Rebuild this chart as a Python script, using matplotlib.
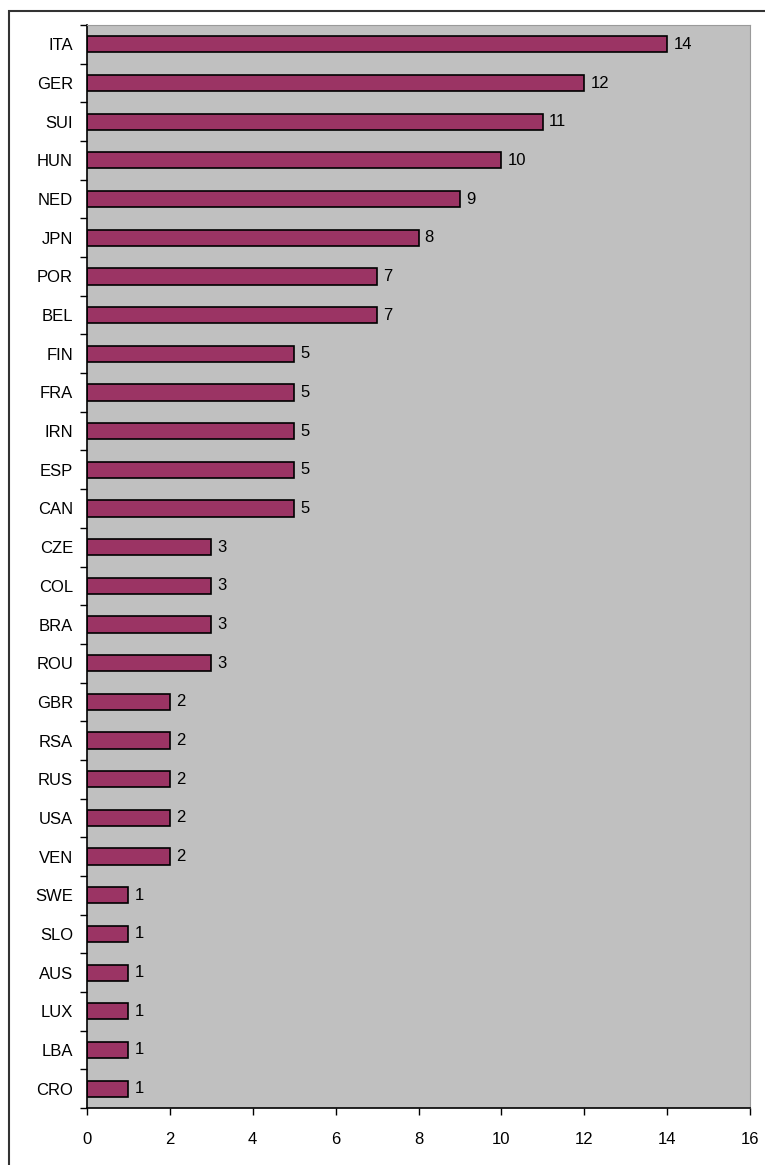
import matplotlib.pyplot as plt
import numpy as np
from matplotlib.patches import Rectangle

countries = ["ITA", "GER", "SUI", "HUN", "NED", "JPN", "POR", "BEL", "FIN", "FRA",
             "IRN", "ESP", "CAN", "CZE", "COL", "BRA", "ROU", "GBR", "RSA", "RUS",
             "USA", "VEN", "SWE", "SLO", "AUS", "LUX", "LBA", "CRO"]
counts = [14, 12, 11, 10, 9, 8, 7, 7, 5, 5,
          5, 5, 5, 3, 3, 3, 3, 2, 2, 2,
          2, 2, 1, 1, 1, 1, 1, 1]

plt.rcParams['font.family'] = ['Liberation Sans', 'DejaVu Sans']

fig = plt.figure(figsize=(7.65, 11.65), dpi=100)
fig.patches.append(Rectangle((9 / 765, -0.1), 1.2, 1 - 11 / 1165 + 0.1,
                             transform=fig.transFigure, fill=False,
                             ec="#333333", lw=1.5))
ax = fig.add_axes([87 / 765, 1 - 1108 / 1165, (750 - 87) / 765, (1108 - 25) / 1165])
ax.set_facecolor("#c0c0c0")

y_pos = np.arange(len(countries))
ax.barh(y_pos, counts, height=0.42, color="#9b3464", ec="black", lw=1.2)
for y, v in zip(y_pos, counts):
    ax.text(v + 0.15, y, str(v), va="center", ha="left", fontsize=12)

ax.set_ylim(len(countries) - 0.5, -0.5)
ax.set_xlim(0, 16)
ax.set_xticks(np.arange(0, 17, 2))
ax.set_yticks(y_pos, labels=countries)
ax.set_yticks(np.arange(-0.5, len(countries), 1), minor=True)
ax.tick_params(axis="y", which="major", length=0, pad=10, labelsize=12)
ax.tick_params(axis="y", which="minor", length=5, width=1)
ax.tick_params(axis="x", length=5, width=1, pad=12, labelsize=12)

for s in ["top", "right"]:
    ax.spines[s].set_color("#9a9a9a")
for s in ["left", "bottom"]:
    ax.spines[s].set_color("black")
    ax.spines[s].set_linewidth(1.2)

fig.savefig("out.png", dpi=100)
